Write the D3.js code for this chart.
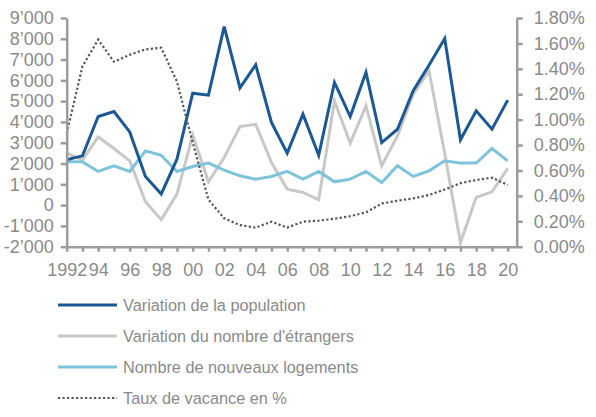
<!DOCTYPE html>
<html>
<head>
<meta charset="utf-8">
<script src="https://cdn.jsdelivr.net/npm/d3@7"></script>
<style>
  body { margin: 0; background: #fff; }
  svg { display: block; font-family: "Liberation Sans Narrow", "Arial Narrow", sans-serif; }
  .axis text { fill: #8a8a8a; font-size: 18px; }
  .axis path, .axis line { stroke: #9c9c9c; stroke-width: 2.5; }
  .legend text { fill: #8a8a8a; font-size: 16.3px; }
</style>
</head>
<body>
<div id="chart"></div>
<script>
// years on the x axis
const years = d3.range(1992, 2021);

// Variation de la population
const population = [2180, 2370, 4260, 4500, 3520, 1380, 530, 2210, 5385, 5290,
  8590, 5640, 6750, 3975, 2500, 4375, 2400, 5900, 4260, 6380,
  3010, 3650, 5500, 6730, 8010, 3140, 4535, 3650, 5050];

// Variation du nombre d'étrangers
const etrangers = [2500, 2180, 3280, 2720, 2130, 160, -700, 530, 3365, 1120,
  2290, 3780, 3890, 2050, 770, 610, 255, 5015, 2980, 4775,
  1890, 3330, 5340, 6460, 2500, -1800, 370, 640, 1765];

// Nombre de nouveaux logements
const logements = [2080, 2080, 1620, 1890, 1620, 2610, 2400, 1620, 1860, 2020,
  1680, 1410, 1250, 1380, 1620, 1250, 1620, 1120, 1250, 1620,
  1090, 1890, 1380, 1650, 2130, 2020, 2020, 2725, 2130];

// Taux de vacance en % (right axis)
const vacance = [0.89, 1.42, 1.63, 1.456, 1.51, 1.553, 1.566, 1.30, 0.82, 0.37,
  0.223, 0.17, 0.15, 0.197, 0.15, 0.197, 0.205, 0.22, 0.24, 0.27,
  0.34, 0.362, 0.38, 0.407, 0.45, 0.50, 0.525, 0.543, 0.486];

const leftTicks = d3.range(-2000, 9001, 1000);
const rightTicks = [0, 0.2, 0.4, 0.6, 0.8, 1.0, 1.2, 1.4, 1.6, 1.8];

const series = [
  { name: "Variation de la population", values: population, color: "#1b5894", dash: null },
  { name: "Variation du nombre d'étrangers", values: etrangers, color: "#c8c8c8", dash: null },
  { name: "Nombre de nouveaux logements", values: logements, color: "#7dc3dc", dash: null },
  { name: "Taux de vacance en %", values: vacance, color: "#555555", dash: "2.2,2.3", right: true }
];

const W = 596, H = 417;
const svg = d3.select("#chart").append("svg")
  .attr("width", W)
  .attr("height", H);

const x = d3.scaleLinear()
  .domain([1992, 2020.57])
  .range([66.7, 516.7]);

const yL = d3.scaleLinear()
  .domain([-2000, 9000])
  .range([246.7, 18]);

const yR = d3.scaleLinear()
  .domain([0, 1.8])
  .range([246.7, 18]);

function fmtThousands(d) {
  const s = Math.abs(d).toString().replace(/\B(?=(\d{3})+(?!\d))/g, "\u2019");
  return (d < 0 ? "-" : "") + s;
}

// lines, drawn before axes so axes sit on top at edges
const drawOrder = [1, 2, 0, 3];
drawOrder.forEach(i => {
  const s = series[i];
  const y = s.right ? yR : yL;
  const line = d3.line()
    .x((d, j) => x(years[j]))
    .y(d => y(d));
  svg.append("path")
    .datum(s.values)
    .attr("fill", "none")
    .attr("stroke", s.color)
    .attr("stroke-width", s.dash ? 2.2 : 3)
    .attr("stroke-dasharray", s.dash)
    .attr("stroke-linejoin", "miter")
    .attr("d", line);
});

// axes
svg.append("g")
  .attr("class", "axis")
  .attr("transform", `translate(${x(1992)},0)`)
  .call(d3.axisLeft(yL).tickValues(leftTicks).tickFormat(fmtThousands)
    .tickSize(6).tickSizeOuter(0).tickPadding(7));

svg.append("g")
  .attr("class", "axis")
  .attr("transform", `translate(${x.range()[1]},0)`)
  .call(d3.axisRight(yR).tickValues(rightTicks).tickFormat(d => d.toFixed(2) + "%")
    .tickSize(6).tickSizeOuter(0).tickPadding(11));

svg.append("g")
  .attr("class", "axis")
  .attr("transform", `translate(0,${yL(-2000)})`)
  .call(d3.axisBottom(x).tickValues(years)
    .tickFormat(d => d === 1992 ? "1992" : (d % 2 === 0 ? String(d).slice(2) : ""))
    .tickSize(5).tickSizeOuter(0).tickPadding(12));

// legend
const legend = svg.append("g").attr("class", "legend");
const legendY = [305, 336, 367, 398];
series.forEach((s, i) => {
  const g = legend.append("g").attr("transform", `translate(0,${legendY[i]})`);
  g.append("line")
    .attr("x1", 58).attr("x2", 117)
    .attr("stroke", s.color)
    .attr("stroke-width", s.dash ? 2.2 : 3)
    .attr("stroke-dasharray", s.dash);
  g.append("text")
    .attr("x", 123)
    .attr("dy", "0.35em")
    .text(s.name);
});
</script>
</body>
</html>
